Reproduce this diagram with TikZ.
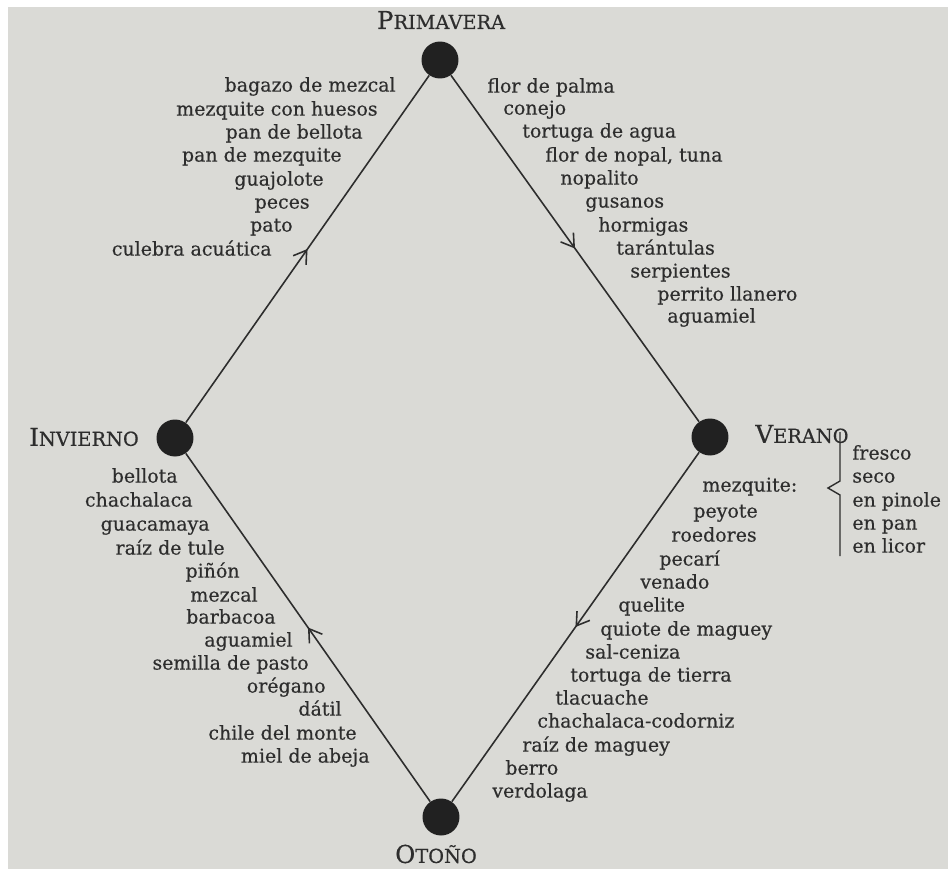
\documentclass[tikz,border=0pt]{standalone}
\usepackage{fontspec}
\setmainfont{DejaVu Serif}[FakeBold=0.4]
\usetikzlibrary{arrows.meta,decorations.markings}

\definecolor{fondo}{RGB}{218,218,214}
\definecolor{tinta}{RGB}{45,45,45}
\definecolor{punto}{RGB}{33,33,33}

% versalitas hechas a mano
\newcommand{\versal}[2]{{\fontsize{14}{16}\selectfont #1\fontsize{11}{13}\selectfont #2}}

\tikzset{
  estacion/.style={circle, fill=punto, minimum size=0.74cm, inner sep=0pt},
  titulo/.style={text=tinta, inner sep=0pt},
  izq/.style={font=\fontsize{10.8}{12}\selectfont, text=tinta, inner sep=0pt, anchor=mid east},
  der/.style={font=\fontsize{10.8}{12}\selectfont, text=tinta, inner sep=0pt, anchor=mid west},
  flecha/.style={draw=tinta, line width=0.9pt, postaction={decorate},
    decoration={markings, mark=at position 0.5 with {\arrow{Straight Barb[length=7pt,width=9pt]}}}}
}

\begin{document}
\begin{tikzpicture}[x=0.02cm, y=-0.02cm]
  \useasboundingbox (0,0) rectangle (948,869);
  \fill[white] (0,0) rectangle (948,869);
  \fill[fondo] (8,7) rectangle (948,869);

  %estaciones
  \node[estacion] (pri) at (440,60) {};
  \node[estacion] (inv) at (175,438) {};
  \node[estacion] (ver) at (710,437) {};
  \node[estacion] (oto) at (441,817) {};

  \node[titulo] (tPri) at (441,20) {\versal{P}{RIMAVERA}};
  \node[titulo] (tInv) at (84,437) {\versal{I}{NVIERNO}};
  \node[titulo] (tVer) at (802,434) {\versal{V}{ERANO}};
  \node[titulo] (tOto) at (436,854) {\versal{O}{TOÑO}};

  %ciclo
  \draw[flecha] (inv) -- (pri);
  \draw[flecha] (pri) -- (ver);
  \draw[flecha] (ver) -- (oto);
  \draw[flecha] (oto) -- (inv);

  %primavera, lado izquierdo
  \node[izq] (a1) at (396,87)  {bagazo de mezcal};
  \node[izq] (a2) at (378,111) {mezquite con huesos};
  \node[izq] (a3) at (363,134) {pan de bellota};
  \node[izq] (a4) at (342,157) {pan de mezquite};
  \node[izq] (a5) at (324,181) {guajolote};
  \node[izq] (a6) at (310,204) {peces};
  \node[izq] (a7) at (293,227) {pato};
  \node[izq] (a8) at (272,251) {culebra acuática};

  %primavera, lado derecho
  \node[der] (b1)  at (487,88)  {flor de palma};
  \node[der] (b2)  at (503,110) {conejo};
  \node[der] (b3)  at (522,133) {tortuga de agua};
  \node[der] (b4)  at (545,157) {flor de nopal, tuna};
  \node[der] (b5)  at (560,180) {nopalito};
  \node[der] (b6)  at (585,203) {gusanos};
  \node[der] (b7)  at (598,227) {hormigas};
  \node[der] (b8)  at (616,250) {tarántulas};
  \node[der] (b9)  at (630,273) {serpientes};
  \node[der] (b10) at (657,296) {perrito llanero};
  \node[der] (b11) at (667,318) {aguamiel};

  %verano
  \node[der] (c1)  at (702,487) {mezquite:};
  \node[der] (c2)  at (693,513) {peyote};
  \node[der] (c3)  at (671,537) {roedores};
  \node[der] (c4)  at (659,561) {pecarí};
  \node[der] (c5)  at (640,584) {venado};
  \node[der] (c6)  at (618,607) {quelite};
  \node[der] (c7)  at (600,631) {quiote de maguey};
  \node[der] (c8)  at (585,654) {sal-ceniza};
  \node[der] (c9)  at (570,677) {tortuga de tierra};
  \node[der] (c10) at (555,700) {tlacuache};
  \node[der] (c11) at (537,723) {chachalaca-codorniz};
  \node[der] (c12) at (522,747) {raíz de maguey};
  \node[der] (c13) at (505,770) {berro};
  \node[der] (c14) at (492,793) {verdolaga};

  %llave del mezquite
  \draw[tinta, line width=0.8pt] (840,432) -- (840,481) -- (828,488) -- (840,495) -- (840,556);
  \node[der] (m1) at (852,455) {fresco};
  \node[der] (m2) at (852,478) {seco};
  \node[der] (m3) at (852,502) {en pinole};
  \node[der] (m4) at (852,525) {en pan};
  \node[der] (m5) at (852,548) {en licor};

  %invierno
  \node[izq] (d1)  at (178,478) {bellota};
  \node[izq] (d2)  at (193,502) {chachalaca};
  \node[izq] (d3)  at (210,526) {guacamaya};
  \node[izq] (d4)  at (225,550) {raíz de tule};
  \node[izq] (d5)  at (240,573) {piñón};
  \node[izq] (d6)  at (258,597) {mezcal};
  \node[izq] (d7)  at (276,619) {barbacoa};
  \node[izq] (d8)  at (293,642) {aguamiel};
  \node[izq] (d9)  at (309,665) {semilla de pasto};
  \node[izq] (d10) at (326,688) {orégano};
  \node[izq] (d11) at (342,711) {dátil};
  \node[izq] (d12) at (357,735) {chile del monte};
  \node[izq] (d13) at (370,758) {miel de abeja};

\end{tikzpicture}
\end{document}
